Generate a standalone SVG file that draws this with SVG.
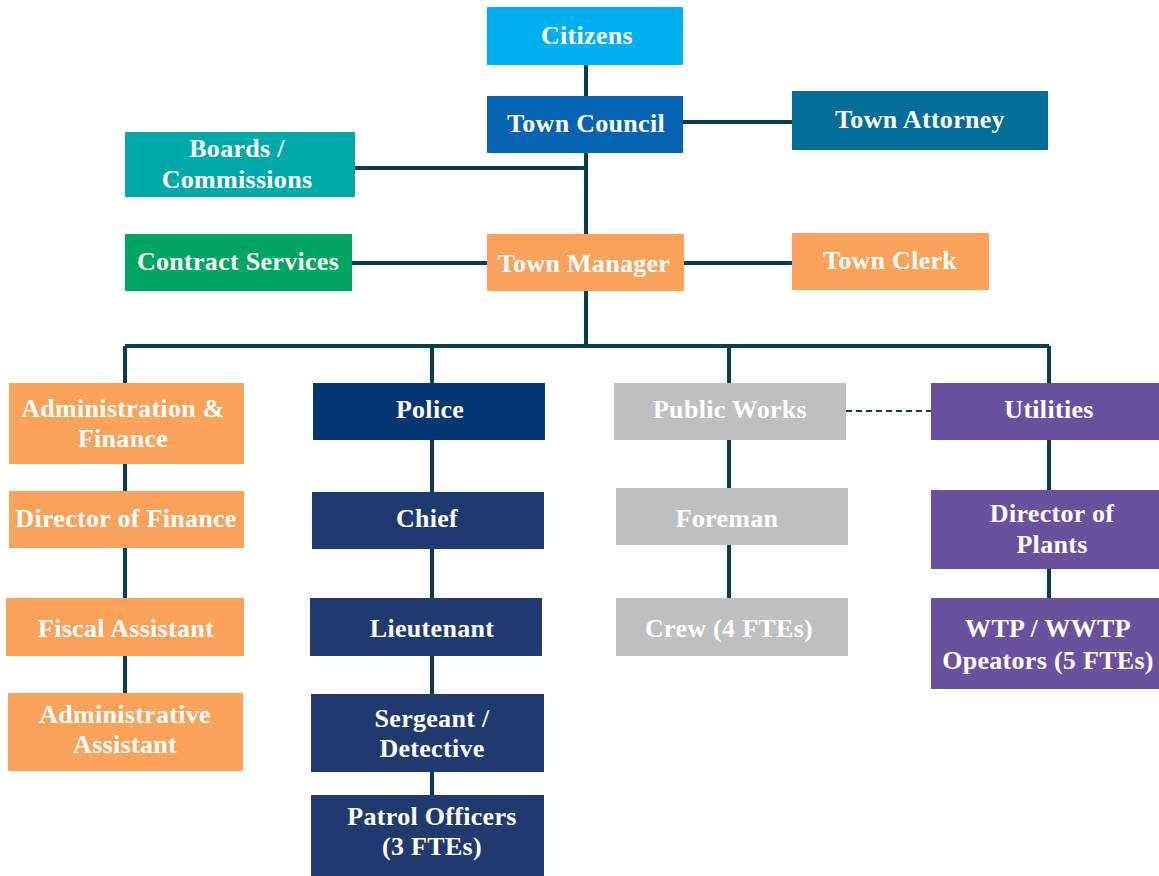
<svg xmlns="http://www.w3.org/2000/svg" width="1159" height="876" viewBox="0 0 1159 876">
<style>
.t{font-family:"Liberation Serif","Times New Roman",serif;font-weight:bold;font-size:26px;letter-spacing:0.3px;fill:#fff;text-anchor:middle}
.c{stroke:#0C3B55;stroke-width:4;fill:none}
.d{stroke:#0C3B55;stroke-width:2;fill:none;stroke-dasharray:6 4}
.orange{fill:#F8A25A}
.navy{fill:#1F3A6E}
.grey{fill:#BEBFC1}
.purple{fill:#6A51A0}
</style>
<rect width="1159" height="876" fill="#fff"/>
<g id="connectors">
<path class="c" d="M586 65V96M683 122H792M586 153V234M355 168H586M352 263H487M684 263H792M586 291V346M125 346H1049M125 346V383M432 346V383M729 346V383M1049 346V383"/>
<path class="c" d="M125 464V491M125 548V598M125 656V693"/>
<path class="c" d="M432 440V492M432 549V598M432 656V694M432 772V795"/>
<path class="c" d="M729 440V488M729 545V598"/>
<path class="c" d="M1049 440V490M1049 569V598"/>
<path class="d" d="M846 411H931"/>
</g>
<g id="citizens"><rect x="487" y="7" width="196" height="58" fill="#00B0F0"/><text class="t" x="587" y="44">Citizens</text></g>
<g id="town-council"><rect x="487" y="96" width="196" height="57" fill="#0563B1"/><text class="t" x="586" y="132">Town Council</text></g>
<g id="town-attorney"><rect x="792" y="91" width="256" height="59" fill="#006E96"/><text class="t" x="920" y="128">Town Attorney</text></g>
<g id="boards"><rect x="125" y="132" width="230" height="65" fill="#00A9A8"/><text class="t" x="237" y="157">Boards /</text><text class="t" x="237" y="188">Commissions</text></g>
<g id="contract-services"><rect x="125" y="234" width="227" height="57" fill="#00A562"/><text class="t" x="238" y="270">Contract Services</text></g>
<g id="town-manager"><rect x="487" y="234" width="197" height="57" class="orange"/><text class="t" x="584" y="272">Town Manager</text></g>
<g id="town-clerk"><rect x="792" y="233" width="197" height="57" class="orange"/><text class="t" x="890" y="269">Town Clerk</text></g>
<g id="admin-finance"><rect x="9" y="383" width="235" height="81" class="orange"/><text class="t" x="123" y="417">Administration &amp;</text><text class="t" x="123" y="447">Finance</text></g>
<g id="police"><rect x="313" y="383" width="232" height="57" fill="#033673"/><text class="t" x="430" y="418">Police</text></g>
<g id="public-works"><rect x="614" y="383" width="232" height="57" class="grey"/><text class="t" x="730" y="418">Public Works</text></g>
<g id="utilities"><rect x="931" y="383" width="228" height="57" class="purple"/><text class="t" x="1049" y="418">Utilities</text></g>
<g id="director-finance"><rect x="9" y="491" width="235" height="57" class="orange"/><text class="t" x="126" y="527">Director of Finance</text></g>
<g id="chief"><rect x="312" y="492" width="232" height="57" class="navy"/><text class="t" x="427" y="527">Chief</text></g>
<g id="foreman"><rect x="616" y="488" width="232" height="57" class="grey"/><text class="t" x="727" y="527">Foreman</text></g>
<g id="director-plants"><rect x="931" y="490" width="228" height="79" class="purple"/><text class="t" x="1052" y="522">Director of</text><text class="t" x="1052" y="553">Plants</text></g>
<g id="fiscal-assistant"><rect x="6" y="598" width="238" height="58" class="orange"/><text class="t" x="126" y="637">Fiscal Assistant</text></g>
<g id="lieutenant"><rect x="310" y="598" width="232" height="58" class="navy"/><text class="t" x="432" y="637">Lieutenant</text></g>
<g id="crew"><rect x="616" y="598" width="232" height="58" class="grey"/><text class="t" x="729" y="637">Crew (4 FTEs)</text></g>
<g id="wtp"><rect x="931" y="598" width="228" height="91" class="purple"/><text class="t" x="1048" y="637">WTP / WWTP</text><text class="t" x="1048" y="669">Opeators (5 FTEs)</text></g>
<g id="admin-assistant"><rect x="8" y="693" width="235" height="78" class="orange"/><text class="t" x="125" y="723">Administrative</text><text class="t" x="125" y="753">Assistant</text></g>
<g id="sergeant"><rect x="311" y="694" width="233" height="78" class="navy"/><text class="t" x="432" y="727">Sergeant /</text><text class="t" x="432" y="757">Detective</text></g>
<g id="patrol"><rect x="311" y="795" width="233" height="81" class="navy"/><text class="t" x="432" y="825">Patrol Officers</text><text class="t" x="432" y="855">(3 FTEs)</text></g>
</svg>
